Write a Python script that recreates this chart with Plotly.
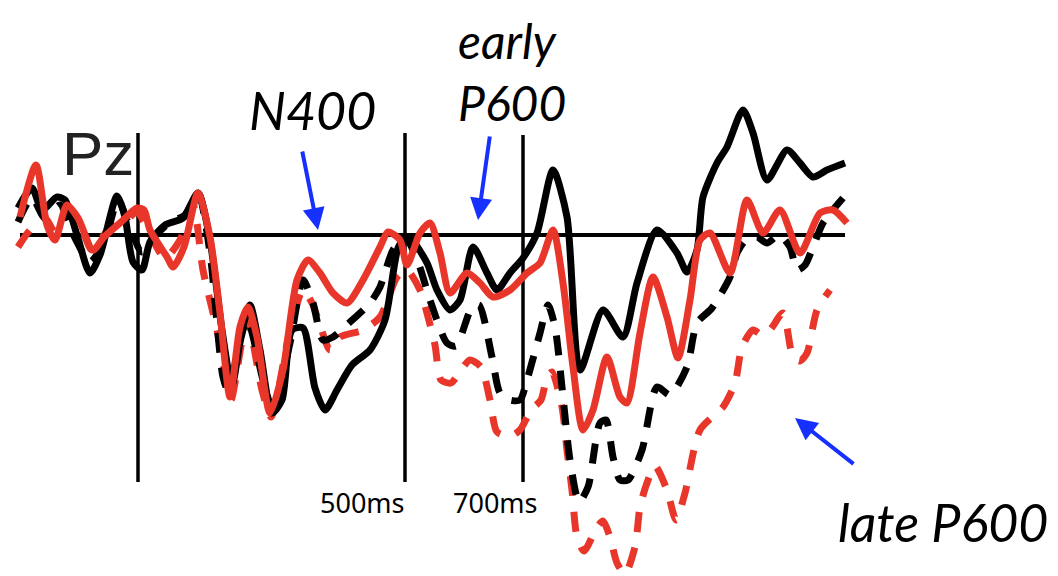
import plotly.graph_objects as go

# ---- data (x: horizontal position, y: amplitude position, reversed axis) ----
black_solid_x = [18, 32, 42, 57, 65, 77, 90, 100, 117, 125, 133, 142, 150, 165, 183, 198, 210, 222, 232, 242, 250, 260, 272, 282, 292, 303, 315, 325, 337, 352, 370, 385, 398, 405,
                 412, 427, 437, 450, 460, 473, 487, 497, 510, 523, 537, 553, 567, 580, 603, 623, 637, 657, 677, 687, 697, 703, 717, 727, 743, 753, 767, 787, 800, 813, 827, 845]
black_solid_y = [208, 188, 210, 197, 200, 235, 273, 255, 196, 217, 262, 270, 242, 225, 218, 193, 240, 330, 385, 330, 305, 350, 413, 400, 330, 328, 388, 410, 390, 365, 350, 320, 248, 238,
                 240, 263, 290, 310, 300, 247, 273, 290, 273, 258, 233, 170, 217, 370, 310, 337, 283, 230, 253, 272, 250, 197, 163, 147, 110, 133, 180, 150, 163, 177, 170, 163]

black_dash_x = [18, 32, 45, 60, 75, 90, 105, 118, 130, 142, 155, 170, 185, 198, 210, 223, 228, 247, 263, 273, 290, 303, 313, 323, 333, 350, 370, 380, 393, 405,
                418, 430, 447, 456, 472, 479, 492, 500, 510, 520, 527, 540, 548, 555, 563, 570, 579, 588, 600, 606, 613, 620, 628, 642, 657, 670, 687, 697, 712, 730, 737, 746, 757, 767, 779, 790, 797, 805, 813, 823, 843]
black_dash_y = [222, 198, 218, 205, 238, 262, 240, 200, 228, 252, 236, 222, 215, 193, 253, 377, 390, 320, 380, 410, 343, 280, 303, 340, 337, 322, 303, 287, 250, 237,
                262, 300, 343, 346, 307, 305, 357, 393, 400, 400, 380, 333, 305, 327, 397, 460, 502, 487, 423, 420, 457, 480, 480, 450, 387, 395, 367, 323, 308, 277, 253, 240, 237, 243, 235, 247, 270, 265, 247, 223, 198]

red_solid_x = [20, 36, 47, 55, 67, 78, 93, 104, 120, 137, 144, 150, 167, 173, 184, 198, 210, 220, 230, 240, 248, 257, 270, 283, 297, 308, 320, 333, 347, 363, 380, 388, 400,
               407, 420, 430, 440, 450, 467, 480, 493, 510, 527, 540, 553, 563, 573, 583, 593, 607, 620, 627, 640, 653, 667, 678, 690, 700, 710, 730, 747, 763, 780, 800, 820, 833, 847]
red_solid_y = [217, 165, 225, 240, 205, 218, 250, 237, 223, 208, 210, 230, 257, 267, 247, 193, 237, 313, 397, 327, 307, 337, 413, 370, 280, 260, 273, 293, 303, 280, 247, 232, 240,
               265, 233, 223, 253, 293, 273, 283, 297, 290, 273, 263, 230, 283, 367, 430, 410, 357, 397, 403, 333, 277, 317, 358, 300, 240, 233, 273, 200, 233, 210, 253, 213, 210, 223]

red_dash_x = [18, 30, 45, 55, 67, 80, 92, 108, 125, 137, 150, 165, 180, 193, 203, 217, 225, 231, 247, 262, 271, 290, 303, 312, 320, 330, 340, 363, 380, 397, 407,
              420, 427, 435, 441, 451, 461, 470, 481, 490, 497, 510, 520, 531, 541, 547, 552, 562, 567, 572, 577, 584, 597, 603, 610, 617, 625, 635, 640, 647, 655, 667, 676, 685, 700, 723, 735, 742, 753, 762, 770, 783, 793, 800, 807, 817, 830]
red_dash_y = [247, 230, 218, 232, 212, 225, 250, 230, 222, 212, 235, 258, 240, 205, 270, 330, 372, 400, 320, 390, 417, 330, 290, 303, 325, 350, 337, 330, 317, 277, 270,
              290, 313, 345, 380, 383, 370, 360, 367, 400, 432, 436, 430, 410, 400, 377, 372, 407, 450, 490, 537, 551, 527, 521, 537, 563, 574, 547, 507, 483, 466, 490, 520, 493, 430, 407, 383, 347, 330, 335, 330, 313, 357, 361, 353, 310, 290]

guides_x = [138, 405, 523]
guide_labels = ["", "500ms", "700ms"]
label_centers = [None, 362, 495]

fig = go.Figure()

def add(x, y, color, width, dash=None):
    fig.add_trace(go.Scatter(x=x, y=y, mode="lines",
                             line=dict(color=color, width=width, shape="spline", smoothing=0.7,
                                       dash=dash if dash else "solid"),
                             hoverinfo="skip", showlegend=False))

# baseline and guide lines
fig.add_shape(type="line", x0=20, x1=845, y0=235, y1=235, line=dict(color="black", width=4), layer="below")
for gx, top in zip(guides_x, [133, 133, 135]):
    fig.add_shape(type="line", x0=gx, x1=gx, y0=top, y1=482, line=dict(color="black", width=3.5), layer="below")

add(red_dash_x, red_dash_y, "#e8372a", 7, "20px,16px")
add(black_dash_x, black_dash_y, "#000000", 7, "20px,15px")
add(black_solid_x, black_solid_y, "#000000", 7)
add(red_solid_x, red_solid_y, "#e8372a", 7)

# labels
fig.add_annotation(x=60, y=190, text="Pz", showarrow=False, xanchor="left", yanchor="bottom",
                   font=dict(family="Liberation Sans", size=62, color="#222222"))
for cx, lab in zip(label_centers, guide_labels):
    if lab:
        fig.add_annotation(x=cx, y=502, text=lab, showarrow=False,
                           xanchor="center", yanchor="middle",
                           font=dict(family="Noto Sans", size=27, color="black"))

ital = dict(family="Lato", size=52, color="black")
fig.add_annotation(x=312, y=110, text="<i>N400</i>", showarrow=False, font=ital)
fig.add_annotation(x=456, y=10, text="<i>early</i><br><i>P600</i>", showarrow=False,
                   font=dict(family="Lato", size=48, color="black"),
                   xanchor="left", yanchor="top", align="left")
fig.add_annotation(x=943, y=522, text="<i>late P600</i>", showarrow=False, font=ital)

# arrows
blue = "#1530ff"
for (hx, hy, tx, ty) in [(318, 230, 302, 150), (478, 220, 490, 135), (795, 418, 855, 465)]:
    fig.add_annotation(x=hx, y=hy, ax=tx, ay=ty, xref="x", yref="y", axref="x", ayref="y",
                       text="", showarrow=True, arrowhead=2, arrowsize=1.1, arrowwidth=4,
                       arrowcolor=blue)

# page has an 8px body margin: size the figure and ranges so positions line up with the window
fig.update_layout(width=1050, height=568, margin=dict(l=0, r=0, t=0, b=0),
                  paper_bgcolor="white", plot_bgcolor="white",
                  xaxis=dict(range=[8, 1058], visible=False, fixedrange=True),
                  yaxis=dict(range=[576, 8], visible=False, fixedrange=True))

fig.write_html("out.html")
